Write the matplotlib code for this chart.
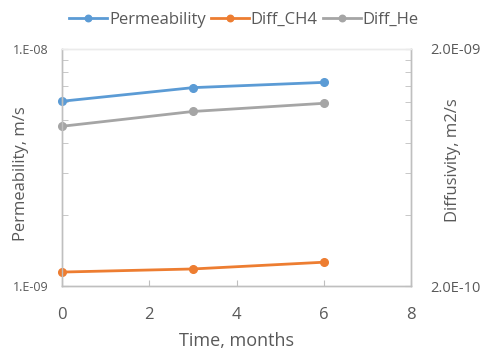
import matplotlib
matplotlib.use("Agg")
import matplotlib.pyplot as plt
from matplotlib.ticker import FixedLocator, NullFormatter

plt.rcParams['font.family'] = ['Open Sans', 'DejaVu Sans']

time_months = [0, 3, 6]
permeability = [6.02e-9, 6.87e-9, 7.23e-9]
diff_ch4 = [2.29e-10, 2.36e-10, 2.52e-10]
diff_he = [9.44e-10, 1.09e-9, 1.18e-9]

blue = '#5B9BD5'
orange = '#ED7D31'
gray = '#A5A5A5'
txt = '#595959'
spine = '#BFBFBF'

fig = plt.figure(figsize=(4.91, 3.52), dpi=100)
ax = fig.add_axes([62/491, 1-286/352, (411-62)/491, (286-49)/352])
ax2 = ax.twinx()

l1, = ax.plot(time_months, permeability, color=blue, lw=2.0, marker='o', ms=5.5, label='Permeability')
l2, = ax2.plot(time_months, diff_ch4, color=orange, lw=2.0, marker='o', ms=5.5, label='Diff_CH4')
l3, = ax2.plot(time_months, diff_he, color=gray, lw=2.0, marker='o', ms=5.5, label='Diff_He')
for l in (l1, l2, l3):
    l.set_clip_on(False)

ax.set_yscale('log')
ax2.set_yscale('log')
ax.set_ylim(1e-9, 1e-8)
ax2.set_ylim(2e-10, 2e-9)
ax.set_xlim(0, 8)
ax.set_xticks([0, 2, 4, 6, 8])

ax.yaxis.set_major_locator(FixedLocator([1e-9, 1e-8]))
ax.set_yticklabels(['1.E-09', '1.E-08'])
ax.yaxis.set_minor_locator(FixedLocator([k*1e-9 for k in range(2, 10)]))
ax.yaxis.set_minor_formatter(NullFormatter())

ax2.yaxis.set_major_locator(FixedLocator([2e-10, 2e-9]))
ax2.set_yticklabels(['2.0E-10', '2.0E-09'])
ax2.yaxis.set_minor_locator(FixedLocator([k*2e-10 for k in range(2, 10)]))
ax2.yaxis.set_minor_formatter(NullFormatter())

for a in (ax, ax2):
    for s in a.spines.values():
        s.set_color(spine)
        s.set_linewidth(1.0)
    a.spines['top'].set_color('#EBEBEB')
    a.tick_params(which='both', direction='in', color=spine, labelcolor=txt)
    a.tick_params(which='major', length=4)
    a.tick_params(which='minor', length=4)
ax.tick_params(axis='x', length=4, pad=15, labelsize=12)
ax.tick_params(axis='y', pad=10, labelsize=9)
ax2.tick_params(axis='y', pad=14, labelsize=10.5)

ax.set_xlabel('Time, months', color=txt, fontsize=13)
ax.xaxis.set_label_coords(0.5, (286-332)/237)
ax.set_ylabel('Permeability, m/s', color=txt, fontsize=12)
ax.yaxis.set_label_coords((29-62)/349, (286-174)/237)
ax2.set_ylabel('Diffusivity, m2/s', color=txt, fontsize=12)
ax2.yaxis.set_label_coords((445-62)/349, (286-160)/237)

fig.legend(handles=[l1, l2, l3], loc='center', bbox_to_anchor=(244/491, 1-20/352),
           ncol=3, frameon=False, fontsize=12, labelcolor=txt, handlelength=2.3,
           handletextpad=0.1, columnspacing=0.3, markerscale=0.85)

fig.savefig('out.png', dpi=100)
